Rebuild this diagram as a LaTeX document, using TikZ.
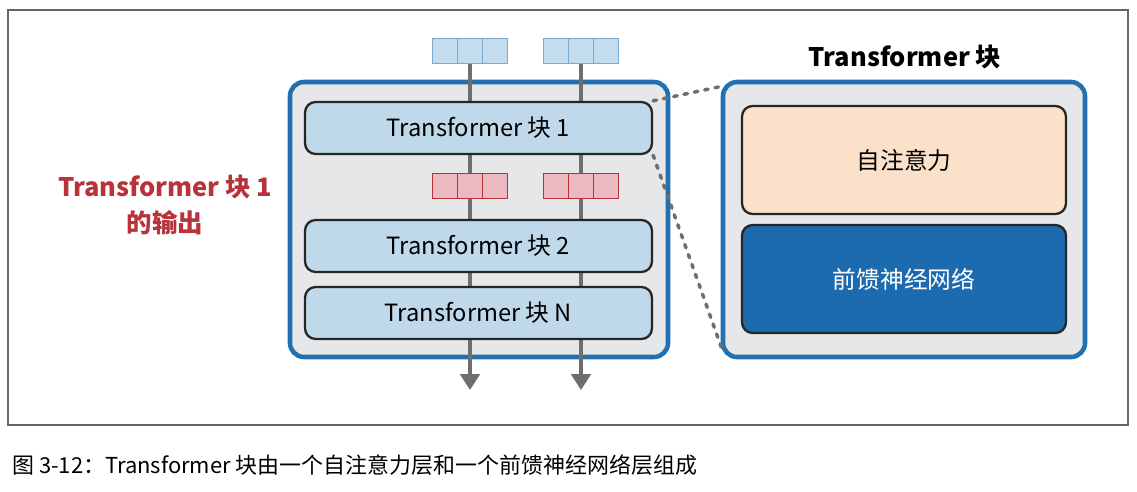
\documentclass[tikz,border=0pt]{standalone}
\usepackage{fontspec}
\setmainfont{Noto Sans CJK SC}
\usetikzlibrary{arrows.meta,positioning}
\definecolor{frameblue}{HTML}{2370B0}
\definecolor{blockfill}{HTML}{BFD9EA}
\definecolor{boxgray}{HTML}{E6E7E9}
\definecolor{peach}{HTML}{FBE1CA}
\definecolor{ffnblue}{HTML}{1C6BAF}
\definecolor{cellblue}{HTML}{C3DCEE}
\definecolor{cellred}{HTML}{EBB9C0}
\definecolor{outred}{HTML}{B8323C}
\definecolor{wire}{HTML}{6D6E71}
\tikzset{
  big/.style={draw=frameblue, line width=2.6pt, fill=boxgray, rounded corners=8pt},
  block/.style={draw=black!85, line width=1.3pt, fill=blockfill, rounded corners=6pt,
    minimum width=6.94cm, minimum height=1.04cm, font=\fontsize{13.5}{16}\selectfont},
  cell/.style={draw=#1!80!black, fill=#1, line width=1pt, minimum width=0.5cm, minimum height=0.5cm, inner sep=0pt},
  wirel/.style={wire, line width=2pt},
}
\begin{document}
\begin{tikzpicture}[x=0.02cm, y=-0.02cm]
  \useasboundingbox (0,0) rectangle (1137,491);
  \draw[black!60, line width=0.6pt] (8,10) rectangle (1128,425);
  % left stack
  \draw[big] (290,82) rectangle (668,357);
  \coordinate (wa) at (470,50);
  \coordinate (wb) at (581,50);
  \coordinate (ea) at (470,390);
  \coordinate (eb) at (581,390);
  \draw[wirel] (wa) -- (470,372);
  \draw[wirel] (wb) -- (581,372);
  \draw[wirel, -{Triangle[length=9pt,width=11pt]}] (470,360) -- (ea);
  \draw[wirel, -{Triangle[length=9pt,width=11pt]}] (581,360) -- (eb);
  \node[block] (b1) at (478.5,128) {Transformer 块 1};
  \node[block] (b2) at (478.5,246) {Transformer 块 2};
  \node[block] (bn) at (478.5,313) {Transformer 块 \textit{N}};
  % vectors
  \foreach \cx/\nm in {470/a, 581/b}{
    \foreach \k in {-1,0,1}{
      \node[cell=cellblue, draw=frameblue!60] at (\cx+\k*25,51) {};
      \node[cell=cellred, draw=outred] at (\cx+\k*25,186) {};
    }
  }
  \node[text=outred, align=center, font=\fontsize{14.5}{20}\selectfont\bfseries] (out) at (165,205)
    {Transformer 块 1\\的输出};
  % detail
  \draw[big] (723,82) rectangle (1085,357);
  \node[font=\fontsize{14.5}{18}\selectfont\bfseries] (title) at (905,57) {Transformer 块};
  \node[draw=black!85, line width=1.3pt, fill=peach, rounded corners=6pt,
    minimum width=6.48cm, minimum height=2.16cm, font=\fontsize{13.5}{16}\selectfont] (sa) at (904,160) {自注意力};
  \node[draw=black!85, line width=1.3pt, fill=ffnblue, text=white, rounded corners=6pt,
    minimum width=6.48cm, minimum height=2.16cm, font=\fontsize{13.5}{16}\selectfont] (ffn) at (904,279) {前馈神经网络};
  \draw[wire, line width=2pt, dash pattern=on 2pt off 4pt, line cap=round] (b1.north east) -- (723,86);
  \draw[wire, line width=2pt, dash pattern=on 2pt off 4pt, line cap=round] (b1.south east) -- (723,352);
  \node[anchor=west, font=\fontsize{12.5}{15}\selectfont] (cap) at (6,465) {图 3-12：Transformer 块由一个自注意力层和一个前馈神经网络层组成};
\end{tikzpicture}
\end{document}
